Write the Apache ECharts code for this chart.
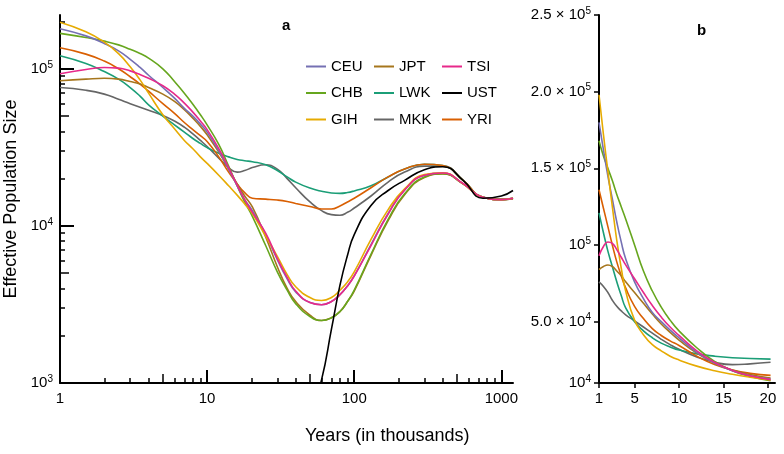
<!DOCTYPE html>
<html>
<head>
<meta charset="utf-8">
<script src="https://cdn.jsdelivr.net/npm/echarts@6.0.0/dist/echarts.min.js"></script>
<style>
  html, body { margin: 0; padding: 0; background: #fff; }
  #chart { width: 784px; height: 454px; }
</style>
</head>
<body>
<div id="chart"></div>
<script>
// time in thousands of years
const years = [1, 1.5, 2, 2.5, 3, 3.5, 4, 5, 6, 7, 8, 9, 10, 12, 14, 16, 18, 20.3, 25, 30, 35, 40, 50, 60, 70, 80, 90, 100, 130, 170, 220, 300, 400, 550, 750, 1000, 1200]

const ceu = [180000, 162000, 145000, 130000, 115000, 102000, 91000, 76000, 65000, 56000, 50000, 44500, 39500, 30000, 23000, 18000, 14700, 12500, 8800, 6100, 4600, 3800, 3250, 3150, 3300, 3650, 4150, 4800, 7600, 12000, 17000, 21000, 21700, 18500, 15200, 14700, 15000]
const chb = [168000, 158000, 150000, 142000, 133000, 125000, 117000, 100000, 83000, 70000, 59500, 51000, 44000, 33000, 24000, 18000, 14200, 11500, 7500, 5100, 3900, 3200, 2650, 2500, 2600, 2850, 3300, 3900, 6600, 11000, 16000, 20500, 21500, 18500, 15200, 14700, 15000]
const gih = [198000, 172000, 148000, 125000, 103000, 85000, 70000, 51000, 41500, 35000, 31000, 27500, 25000, 21000, 18000, 15700, 13800, 12000, 8600, 6400, 4900, 4100, 3500, 3350, 3500, 3900, 4400, 5100, 8200, 12700, 17200, 21200, 21800, 18500, 15200, 14700, 15000]
const jpt = [84000, 86000, 87000, 86000, 83000, 80000, 76000, 69000, 62000, 55000, 48500, 43000, 38000, 29500, 23000, 18500, 15500, 13200, 8500, 5500, 4000, 3300, 2700, 2500, 2600, 2850, 3300, 3850, 6500, 10800, 15800, 20300, 21400, 18500, 15200, 14700, 15000]
const lwk = [121000, 108000, 96000, 86000, 76000, 67000, 59000, 50000, 44000, 39500, 36000, 33500, 31500, 29000, 27500, 26500, 26000, 25600, 24500, 22500, 20500, 19000, 17400, 16600, 16200, 16100, 16300, 16700, 18000, 20500, 23000, 24700, 24200, 19500, 15200, 14700, 14900]
const mkk = [76000, 73000, 69000, 64000, 60000, 57000, 54500, 50500, 46500, 42500, 38500, 35000, 32000, 27000, 23500, 22000, 22500, 23500, 24500, 23000, 20000, 17500, 14200, 12500, 11800, 11700, 12200, 13000, 15500, 19000, 22000, 24000, 24000, 19500, 15200, 14800, 15000]
const tsi = [93000, 99000, 102000, 101000, 97000, 92000, 87000, 78000, 69000, 60500, 53000, 46500, 41000, 31000, 23500, 18200, 14700, 12200, 9000, 6200, 4700, 3850, 3250, 3150, 3300, 3650, 4150, 4800, 7500, 11900, 16900, 21000, 21700, 18600, 15200, 14700, 15000]
const ust = [null, null, null, null, null, null, null, null, null, null, null, null, null, null, null, null, null, null, null, null, null, null, 600, 1050, 2200, 4200, 6500, 8800, 13500, 16800, 19500, 22800, 23800, 19500, 15000, 15500, 16800]
const yri = [136000, 124000, 112000, 100000, 89000, 80000, 72000, 60000, 52000, 45500, 41000, 37500, 34500, 27500, 22000, 18500, 16300, 15000, 14800, 14600, 14300, 13900, 13300, 12800, 12800, 13400, 14200, 15000, 17500, 20500, 23000, 24700, 24200, 19500, 15200, 14700, 14900]

const popNames = ['MKK', 'LWK', 'YRI', 'JPT', 'CHB', 'CEU', 'GIH', 'TSI', 'UST']
const popValues = [mkk, lwk, yri, jpt, chb, ceu, gih, tsi, ust]
const popColors = ['#666666', '#1b9e77', '#d95f02', '#a6761d', '#66a61e', '#7570b3', '#e6ab02', '#e7298a', '#000000']

// tick values
const majorTicksAy = [1000, 10000, 100000]
const minorTicksA = [2, 3, 4, 6, 7, 8, 9, 20, 30, 40, 60, 70, 80, 90, 200, 300, 400, 600, 700, 800, 900]
const midTicksA = [5, 50, 500]
const minorTicksAy = [2000, 3000, 4000, 6000, 7000, 8000, 9000, 20000, 30000, 40000, 60000, 70000, 80000, 90000, 200000]
const midTicksAy = [5000, 50000]
const xTicksB = [1, 5, 10, 15, 20]
const yTicksB = [10000, 50000, 100000, 150000, 200000, 250000]

const FONT = 'Liberation Sans, Arial, Helvetica, sans-serif'
const supRich = {
  n: { fontSize: 15, fontFamily: FONT, color: '#000', lineHeight: 18 },
  e: { fontSize: 10, fontFamily: FONT, color: '#000', verticalAlign: 'top', lineHeight: 10 }
}
const powLabel = v => {
  const e = Math.floor(Math.log10(v) + 1e-9)
  const m = v / Math.pow(10, e)
  const pre = Math.abs(m - 1) < 1e-6 ? '' : m.toFixed(1) + ' \u00d7 '
  return '{n|' + pre + '10}{e|' + e + '}'
}

const chart = echarts.init(document.getElementById('chart'))

const lg = Math.log10
const tickAxis = (extra) => Object.assign({
  type: 'value',
  axisLine: { show: false },
  axisLabel: { show: false },
  splitLine: { show: false }
}, extra)

const series = []
popNames.forEach((name, i) => {
  series.push({
    name: name,
    type: 'line',
    xAxisIndex: 0,
    yAxisIndex: 0,
    data: years.map((x, j) => [x, popValues[i][j]]),
    smooth: true,
    symbol: 'none',
    lineStyle: { width: 1.6, color: popColors[i] },
    itemStyle: { color: popColors[i] }
  })
  if (name !== 'UST') {
    series.push({
      name: name,
      type: 'line',
      xAxisIndex: 3,
      yAxisIndex: 4,
      data: years.map((x, j) => [x, popValues[i][j]]).filter(d => d[0] <= 20.3),
      smooth: true,
      symbol: 'none',
      lineStyle: { width: 1.6, color: popColors[i] },
      itemStyle: { color: popColors[i] }
    })
  }
})

const legendBase = {
  orient: 'vertical',
  top: 59,
  padding: 0,
  itemGap: 11.5,
  itemWidth: 20,
  itemHeight: 2,
  icon: 'rect',
  textStyle: { fontSize: 15, fontFamily: FONT, color: '#000' }
}

chart.setOption({
  animation: false,
  backgroundColor: '#fff',
  grid: [
    { left: 60, top: 15, width: 453, bottom: 71, outerBoundsMode: 'none' },
    { left: 599, top: 15, width: 176, bottom: 71, outerBoundsMode: 'none' }
  ],
  legend: [
    Object.assign({ left: 306, data: ['CEU', 'CHB', 'GIH'] }, legendBase),
    Object.assign({ left: 374, data: ['JPT', 'LWK', 'MKK'] }, legendBase),
    Object.assign({ left: 442, data: ['TSI', 'UST', 'YRI'] }, legendBase)
  ],
  xAxis: [
    {
      type: 'log', gridIndex: 0, min: 1, max: 1200, position: 'bottom',
      axisLine: { lineStyle: { color: '#000', width: 2 } },
      axisTick: { inside: true, length: 13, lineStyle: { color: '#000', width: 2 } },
      axisLabel: { fontSize: 15, fontFamily: FONT, color: '#000', margin: 8, formatter: v => String(Math.round(v)) },
      splitLine: { show: false }
    },
    tickAxis({ gridIndex: 0, min: 0, max: lg(1200), position: 'bottom',
      axisTick: { inside: true, length: 9, customValues: midTicksA.map(lg), lineStyle: { color: '#000', width: 1.5 } } }),
    tickAxis({ gridIndex: 0, min: 0, max: lg(1200), position: 'bottom',
      axisTick: { inside: true, length: 5, customValues: minorTicksA.map(lg), lineStyle: { color: '#000', width: 1.5 } } }),
    {
      type: 'value', gridIndex: 1, min: 1, max: 20.8, position: 'bottom',
      axisLine: { lineStyle: { color: '#000', width: 2 } },
      axisTick: { length: 5, customValues: xTicksB, lineStyle: { color: '#000', width: 1.5 } },
      axisLabel: { fontSize: 15, fontFamily: FONT, color: '#000', margin: 8, customValues: xTicksB },
      splitLine: { show: false }
    }
  ],
  yAxis: [
    {
      type: 'log', gridIndex: 0, min: 1000, max: 220000, position: 'left',
      name: 'Effective Population Size', nameLocation: 'middle', nameGap: 36,
      nameTextStyle: { fontSize: 18, fontFamily: FONT, color: '#000' },
      axisLine: { lineStyle: { color: '#000', width: 2 } },
      axisTick: { show: false },
      axisLabel: { formatter: powLabel, rich: supRich, margin: 7, showMaxLabel: false },
      splitLine: { show: false }
    },
    tickAxis({ gridIndex: 0, min: 3, max: lg(220000), position: 'left',
      axisTick: { inside: true, length: 14, customValues: majorTicksAy.map(lg), lineStyle: { color: '#000', width: 2 } } }),
    tickAxis({ gridIndex: 0, min: 3, max: lg(220000), position: 'left',
      axisTick: { inside: true, length: 9, customValues: midTicksAy.map(lg), lineStyle: { color: '#000', width: 1.5 } } }),
    tickAxis({ gridIndex: 0, min: 3, max: lg(220000), position: 'left',
      axisTick: { inside: true, length: 5, customValues: minorTicksAy.map(lg), lineStyle: { color: '#000', width: 1.5 } } }),
    {
      type: 'value', gridIndex: 1, min: 10000, max: 250000, position: 'left',
      axisLine: { lineStyle: { color: '#000', width: 2 } },
      axisTick: { length: 5, customValues: yTicksB, lineStyle: { color: '#000', width: 1.5 } },
      axisLabel: { formatter: powLabel, rich: supRich, margin: 8, customValues: yTicksB },
      splitLine: { show: false }
    }
  ],
  graphic: [
    { type: 'text', left: 282, top: 18, style: { text: 'a', fontSize: 15, fontWeight: 'bold', fontFamily: FONT, fill: '#000' } },
    { type: 'text', left: 697, top: 23, style: { text: 'b', fontSize: 15, fontWeight: 'bold', fontFamily: FONT, fill: '#000' } },
    { type: 'text', left: 305, top: 427, style: { text: 'Years (in thousands)', fontSize: 18, fontFamily: FONT, fill: '#000' } }
  ],
  series: series
})
</script>
</body>
</html>
